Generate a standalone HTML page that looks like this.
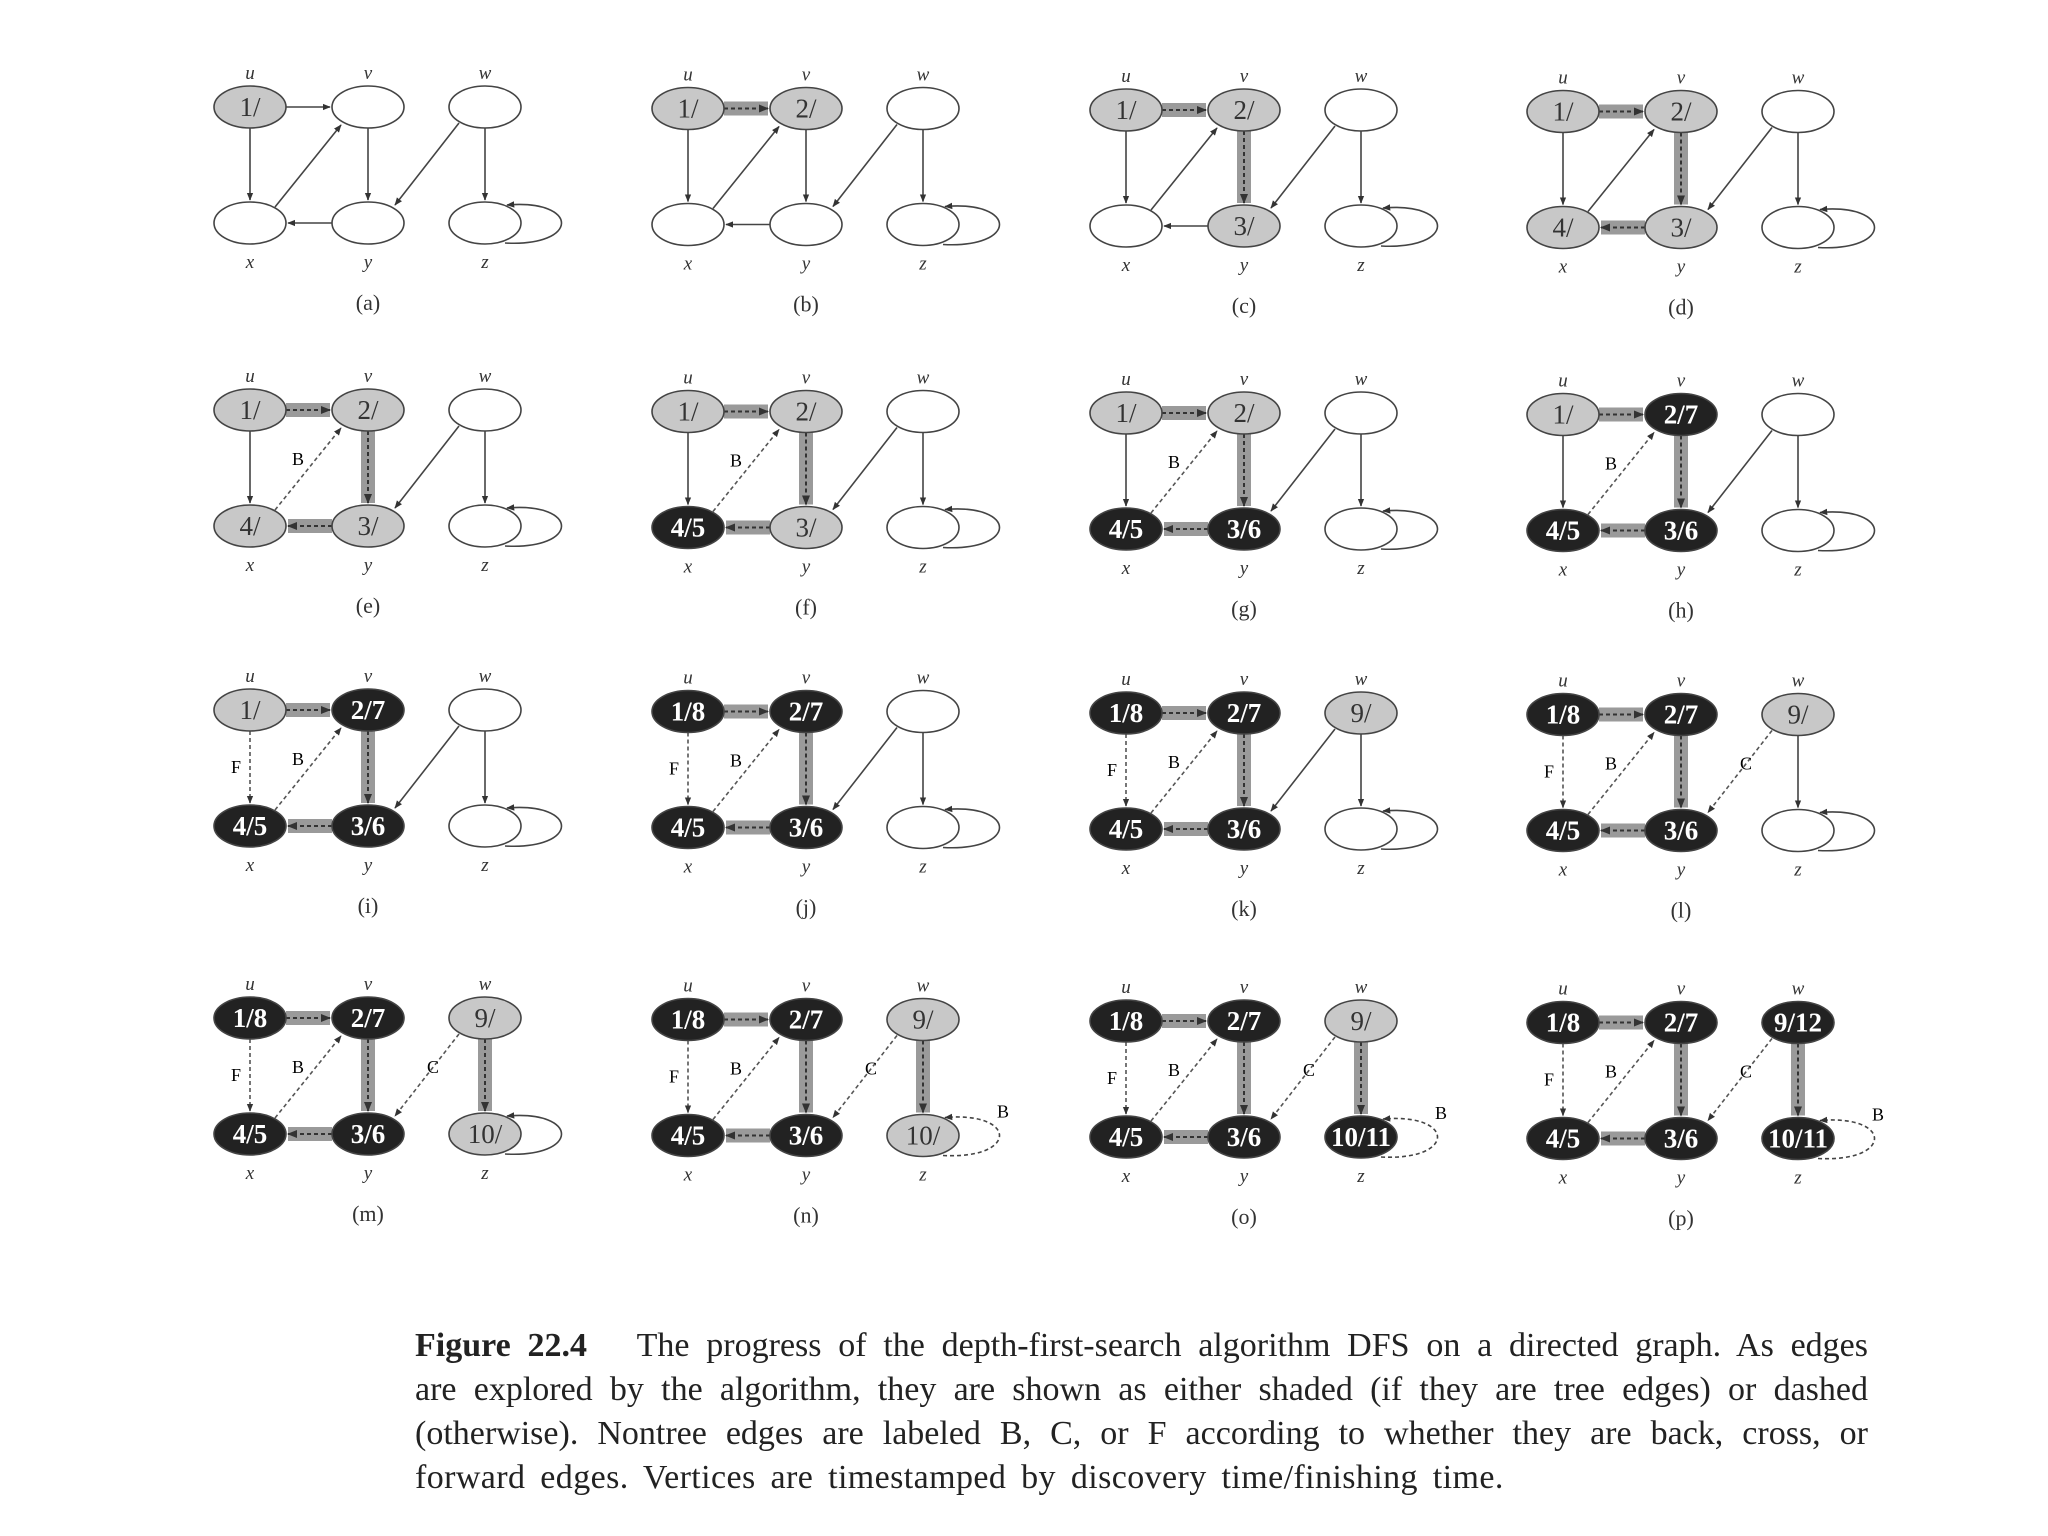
<!DOCTYPE html>
<html><head><meta charset="utf-8"><style>
body{margin:0;background:#fff;width:2048px;height:1536px;overflow:hidden;position:relative}
svg{position:absolute;left:0;top:0}
.cap{position:absolute;left:415px;width:1453px;font-family:"Liberation Serif",serif;font-size:34px;color:#222;text-align:justify;text-align-last:justify;white-space:nowrap;line-height:38px}
</style></head><body>
<svg id="s" width="2048" height="1536" xmlns="http://www.w3.org/2000/svg">
<defs>
<marker id="ah" viewBox="0 0 10 10" refX="9" refY="5" markerWidth="5" markerHeight="5" orient="auto-start-reverse"><path d="M0,1 L10,5 L0,9 z" fill="#333"/></marker>
</defs>
<g id="g"></g>
</svg>
<div class="cap" style="top:1327px"><b>Figure 22.4</b>&nbsp;&nbsp; The progress of the depth-first-search algorithm DFS on a directed graph. As edges</div>
<div class="cap" style="top:1371px">are explored by the algorithm, they are shown as either shaded (if they are tree edges) or dashed</div>
<div class="cap" style="top:1415px">(otherwise). Nontree edges are labeled B, C, or F according to whether they are back, cross, or</div>
<div class="cap" style="top:1459px;text-align-last:left;word-spacing:6px;letter-spacing:0.4px">forward edges. Vertices are timestamped by discovery time/finishing time.</div>
<script>
const G=document.getElementById('g');let h='';
const colX=[250,688,1126,1563],rowY=[107,410,710,1018];
const letters='abcdefghijklmnop';
const W=['w',''];
function st(i){
 const nd={u:W,v:W,w:W,x:W,y:W,z:W};const e={uv:'n',ux:'n',xv:'n',vy:'n',yx:'n',wy:'n',wz:'n',zz:'n'};
 if(i>=0)nd.u=['g','1/'];
 if(i>=1){nd.v=['g','2/'];e.uv='t'}
 if(i>=2){nd.y=['g','3/'];e.vy='t'}
 if(i>=3){nd.x=['g','4/'];e.yx='t'}
 if(i>=4)e.xv='d';
 if(i>=5)nd.x=['b','4/5'];
 if(i>=6)nd.y=['b','3/6'];
 if(i>=7)nd.v=['b','2/7'];
 if(i>=8)e.ux='d';
 if(i>=9)nd.u=['b','1/8'];
 if(i>=10)nd.w=['g','9/'];
 if(i>=11)e.wy='d';
 if(i>=12){nd.z=['g','10/'];e.wz='t'}
 if(i>=13)e.zz='d';
 if(i>=14)nd.z=['b','10/11'];
 if(i>=15)nd.w=['b','9/12'];
 return [nd,e];
}
function line(x1,y1,x2,y2,t){
 if(t==='t'){h+=`<line x1="${x1}" y1="${y1}" x2="${x2}" y2="${y2}" stroke="#9a9a9a" stroke-width="14"/>`;
  h+=`<line x1="${x1}" y1="${y1}" x2="${x2}" y2="${y2}" stroke="#333" stroke-width="2" stroke-dasharray="4 3" marker-end="url(#ah)"/>`;}
 else if(t==='d')h+=`<line x1="${x1}" y1="${y1}" x2="${x2}" y2="${y2}" stroke="#555" stroke-width="1.6" stroke-dasharray="4 3" marker-end="url(#ah)"/>`;
 else h+=`<line x1="${x1}" y1="${y1}" x2="${x2}" y2="${y2}" stroke="#444" stroke-width="1.6" marker-end="url(#ah)"/>`;
}
function txt(x,y,s,sz,extra){h+=`<text x="${x}" y="${y}" font-family="Liberation Serif,serif" font-size="${sz}" text-anchor="middle" ${extra||''}>${s}</text>`}
for(let i=0;i<16;i++){
 const c=i%4,r=Math.floor(i/4);const X=colX[c],Y=rowY[r]+c*1.5;
 const P={u:[X,Y],v:[X+118,Y],w:[X+235,Y],x:[X,Y+116],y:[X+118,Y+116],z:[X+235,Y+116]};
 const [nd,e]=st(i);const rx=36,ry=21;
 line(P.u[0]+rx,Y,P.v[0]-rx-2,Y,e.uv);
 line(X,Y+ry,X,Y+116-ry-2,e.ux);
 line(X+25,Y+116-16,X+118-27,Y+18,e.xv);
 line(X+118,Y+ry,X+118,Y+116-ry-2,e.vy);
 line(X+118-rx,Y+116,X+rx+2,Y+116,e.yx);
 line(X+235-26,Y+16,X+118+27,Y+116-18,e.wy);
 line(X+235,Y+ry,X+235,Y+116-ry-2,e.wz);
 const zx=P.z[0],zy=P.z[1];
 h+=`<path d="M${zx+20},${zy+20} C${zx+95},${zy+24} ${zx+95},${zy-24} ${zx+22},${zy-18}" fill="none" stroke="#444" stroke-width="1.6" ${e.zz==='d'?'stroke-dasharray="4 3"':''} marker-end="url(#ah)"/>`;
 if(e.ux==='d')txt(X-14,Y+63,'F',18);
 if(e.xv==='d')txt(X+48,Y+55,'B',18);
 if(e.wy==='d')txt(X+183,Y+55,'C',18);
 if(e.zz==='d')txt(zx+80,zy-18,'B',18);
 for(const k of ['u','v','w','x','y','z']){
  const [f,l]=nd[k];const [cx,cy]=P[k];
  const fill=f==='b'?'#222':f==='g'?'#c8c8c8':'#fff';
  h+=`<ellipse cx="${cx}" cy="${cy}" rx="${rx}" ry="${ry}" fill="${fill}" stroke="#444" stroke-width="1.6"/>`;
  if(l)txt(cx,cy+9,l,27,`fill="${f==='b'?'#fff':'#333'}" ${f==='b'?'font-weight="bold"':''}`);
  const ly=(k==='u'||k==='v'||k==='w')?cy-28:cy+45;
  txt(cx,ly,k,19,'font-style="italic" fill="#333"');
 }
 txt(X+118,Y+203,'('+letters[i]+')',22,'fill="#333"');
}
G.innerHTML=h;
</script>
</body></html>
